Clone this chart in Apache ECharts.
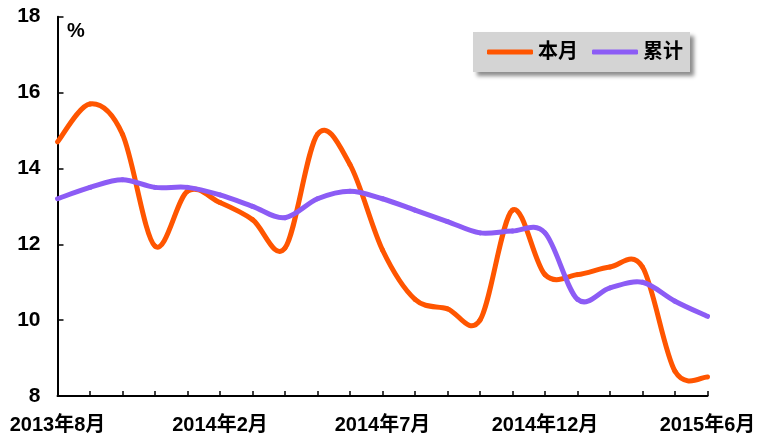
<!DOCTYPE html>
<html>
<head>
<meta charset="utf-8">
<script src="https://cdn.jsdelivr.net/npm/echarts@6/dist/echarts.min.js"></script>
<style>
html,body{margin:0;padding:0;background:#fff;}
#chart{width:768px;height:444px;}
</style>
</head>
<body>
<div id="chart"></div>
<script>
var categories = ['2013年8月','2013年9月','2013年10月','2013年11月','2013年12月',
  '2014年2月','2014年3月','2014年4月','2014年5月','2014年6月','2014年7月','2014年8月',
  '2014年9月','2014年10月','2014年11月','2014年12月',
  '2015年2月','2015年3月','2015年4月','2015年5月','2015年6月'];
var monthly = [14.7, 15.7, 14.9, 11.95, 13.4, 13.1, 12.65, 11.9, 14.9, 14.1, 11.85, 10.55, 10.3, 10.0, 12.9, 11.2, 11.2, 11.4, 11.4, 8.65, 8.5];
var cumulative = [13.2, 13.5, 13.7, 13.5, 13.5, 13.3, 13.0, 12.7, 13.2, 13.4, 13.2, 12.9, 12.6, 12.3, 12.35, 12.3, 10.55, 10.85, 11.0, 10.5, 10.1];
var seriesNames = ['本月', '累计'];
var seriesColors = ['#FF5500', '#8C5CF5'];
var yTicks = {min: 8, max: 18, interval: 2};

var FONT = "'Liberation Sans', 'Noto Sans CJK SC', Arial, sans-serif";

// Smoothed line (Catmull-Rom style, like spreadsheet smoothing) drawn through the axes' coordinate system
function curveSeries(name, values, color) {
  return {
    name: name,
    type: 'custom',
    data: values.map(function (v, i) { return [i, v]; }),
    encode: {x: 0, y: 1},
    itemStyle: {color: color},
    silent: true,
    renderItem: function (params, api) {
      if (params.dataIndex !== 0) return null;
      var pts = values.map(function (v, i) { return api.coord([i, v]); });
      var n = pts.length;
      var children = [];
      for (var i = 0; i < n - 1; i++) {
        var p0 = pts[Math.max(i - 1, 0)], p1 = pts[i], p2 = pts[i + 1], p3 = pts[Math.min(i + 2, n - 1)];
        children.push({
          type: 'bezierCurve',
          shape: {
            x1: p1[0], y1: p1[1], x2: p2[0], y2: p2[1],
            cpx1: p1[0] + (p2[0] - p0[0]) / 6, cpy1: p1[1] + (p2[1] - p0[1]) / 6,
            cpx2: p2[0] - (p3[0] - p1[0]) / 6, cpy2: p2[1] - (p3[1] - p1[1]) / 6
          },
          style: {stroke: color, lineWidth: 5, fill: null, lineCap: 'round', lineJoin: 'round'}
        });
      }
      return {type: 'group', children: children};
    }
  };
}

var chart = echarts.init(document.getElementById('chart'));
chart.setOption({
  animation: false,
  backgroundColor: '#ffffff',
  title: {
    text: '%', left: 67, top: 21, padding: 0,
    textStyle: {fontFamily: FONT, fontSize: 20, fontWeight: 'bold', color: '#000'}
  },
  legend: {
    data: seriesNames,
    left: 473, top: 32,
    padding: [10, 7, 10, 14],
    itemGap: 14,
    itemWidth: 46, itemHeight: 5,
    icon: 'roundRect',
    backgroundColor: '#d4d4d4',
    shadowColor: 'rgba(0,0,0,0.45)',
    shadowBlur: 4, shadowOffsetX: 4, shadowOffsetY: 4,
    textStyle: {fontFamily: FONT, fontSize: 20, fontWeight: 'bold', color: '#000'}
  },
  grid: {left: 57.5, right: 60.5, top: 16.7, bottom: 48, containLabel: false},
  xAxis: {
    type: 'category',
    data: categories,
    boundaryGap: false,
    axisLine: {lineStyle: {color: '#000', width: 2}},
    axisTick: {show: true, inside: true, interval: 0, length: 5, lineStyle: {color: '#000', width: 1.5}},
    axisLabel: {interval: 4, margin: 19, color: '#000', fontFamily: FONT, fontSize: 20, fontWeight: 'bold', showMaxLabel: true, showMinLabel: true},
    splitLine: {show: false}
  },
  yAxis: {
    type: 'value',
    min: yTicks.min, max: yTicks.max, interval: yTicks.interval,
    axisLine: {show: true, lineStyle: {color: '#000', width: 2}},
    axisTick: {show: true, inside: true, length: 6, lineStyle: {color: '#000', width: 1.5}},
    axisLabel: {margin: 17, color: '#000', fontFamily: FONT, fontSize: 21, fontWeight: 'bold'},
    splitLine: {show: false}
  },
  series: [
    curveSeries(seriesNames[0], monthly, seriesColors[0]),
    curveSeries(seriesNames[1], cumulative, seriesColors[1])
  ]
});
</script>
</body>
</html>
